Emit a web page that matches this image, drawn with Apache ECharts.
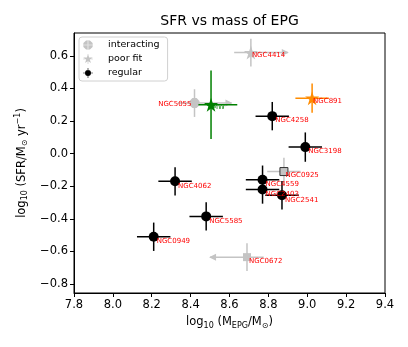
<!DOCTYPE html>
<html>
<head>
<meta charset="utf-8">
<script src="https://cdn.jsdelivr.net/npm/echarts@6/dist/echarts.min.js"></script>
<style>html,body{margin:0;padding:0;background:#fff}#main{width:408px;height:347px}</style>
</head>
<body>
<div id="main"></div>
<script>
// regular galaxies
var regNames = ['NGC4258', 'NGC3198', 'NGC4559', 'NGC2403', 'NGC2541', 'NGC4062', 'NGC5585', 'NGC0949'];
var regMass = [8.82, 8.99, 8.77, 8.77, 8.87, 8.32, 8.48, 8.21];
var regSfr = [0.23, 0.04, -0.16, -0.22, -0.255, -0.17, -0.385, -0.51];
var regMassErr = [0.086, 0.086, 0.086, 0.086, 0.086, 0.086, 0.086, 0.086];
var regSfrErr = [0.087, 0.09, 0.087, 0.087, 0.087, 0.087, 0.087, 0.087];

// interacting (mass limits: 1 = lower limit, -1 = upper limit)
var intNames = ['NGC5055', 'NGC0925', 'NGC0672'];
var intMass = [8.42, 8.88, 8.69];
var intSfr = [0.31, -0.11, -0.635];
var intMassErr = [0.086, 0.086, 0.086];
var intSfrErr = [0.085, 0.085, 0.085];
var intLimit = [1, 0, -1];

// poor fit
var poorNames = ['NGC4414'];
var poorMass = [8.71];
var poorSfr = [0.62];
var poorMassErr = [0.086];
var poorSfrErr = [0.085];
var poorLimit = [1];

// NGC891
var n891Names = ['NGC891'];
var n891Mass = [9.025];
var n891Sfr = [0.34];
var n891MassErr = [0.086];
var n891SfrErr = [0.09];

// Milky Way
var mwNames = ['MW'];
var mwMass = [8.505];
var mwSfr = [0.30];
var mwMassErrLo = [0.065];
var mwMassErrHi = [0.135];
var mwSfrErr = [0.21];

var xTicks = [7.8, 8.0, 8.2, 8.4, 8.6, 8.8, 9.0, 9.2, 9.4];
var yTicks = [-0.8, -0.6, -0.4, -0.2, 0.0, 0.2, 0.4, 0.6];

var ARROW = 0.19;
var GRAY = '#c4c4c4';
var FONT = 'DejaVu Sans';

var STAR = 'path://M10,0 L12.25,6.91 L19.51,6.91 L13.63,11.18 L15.88,18.09 L10,13.82 L4.12,18.09 L6.37,11.18 L0.49,6.91 L7.75,6.91 Z';
var OCT = 'path://M19.24,6.17 L13.83,0.76 L6.17,0.76 L0.76,6.17 L0.76,13.83 L6.17,19.24 L13.83,19.24 L19.24,13.83 Z';
var CROSS = ' M0,9.4 L20,9.4 L20,10.6 L0,10.6 Z M9.4,0 L10.6,0 L10.6,20 L9.4,20 Z';
var CIRC = 'path://M4,10 A6,6 0 1 1 16,10 A6,6 0 1 1 4,10 Z';

var chart = echarts.init(document.getElementById('main'));

function errData(xs, ys, xlo, xhi, ye, lim) {
  return xs.map(function (x, i) {
    return [x, ys[i], xlo[i], xhi[i], ye[i], lim ? lim[i] : 0];
  });
}

function errSeries(data, color, z) {
  return {
    type: 'custom',
    z: z,
    silent: true,
    encode: { x: 0, y: 1 },
    data: data,
    renderItem: function (params, api) {
      var x = api.value(0), y = api.value(1);
      var xl = api.value(2), xh = api.value(3), ye = api.value(4), lim = api.value(5);
      if (lim === 1) xh = ARROW;
      if (lim === -1) xl = ARROW;
      var a = api.coord([x - xl, y]), b = api.coord([x + xh, y]);
      var c = api.coord([x, y + ye]), d = api.coord([x, y - ye]);
      var st = { stroke: color, lineWidth: 1.5 };
      var kids = [
        { type: 'line', shape: { x1: a[0], y1: a[1], x2: b[0], y2: b[1] }, style: st },
        { type: 'line', shape: { x1: c[0], y1: c[1], x2: d[0], y2: d[1] }, style: st }
      ];
      if (lim !== 0) {
        var tip = lim === 1 ? b : a;
        var dir = lim;
        kids.push({
          type: 'polygon',
          shape: { points: [[tip[0] + dir * 1, tip[1]], [tip[0] - dir * 6, tip[1] - 3.5], [tip[0] - dir * 6, tip[1] + 3.5]] },
          style: { fill: color }
        });
      }
      return { type: 'group', children: kids };
    }
  };
}

function pts(names, xs, ys) {
  return names.map(function (n, i) { return { name: n, value: [xs[i], ys[i]] }; });
}

var lbl = {
  show: true,
  position: [8, 6],
  formatter: '{b}',
  color: '#ff0000',
  fontSize: 7,
  fontFamily: FONT
};

var intPts = pts(intNames, intMass, intSfr);
intPts[0].label = { position: [2, 3], align: 'right' };
intPts[1].symbol = 'rect';
intPts[1].symbolSize = 8;
intPts[1].itemStyle = { borderColor: '#333', borderWidth: 1 };
intPts[1].label = { position: [6, 5] };
intPts[2].symbol = 'rect';
intPts[2].symbolSize = 8;
intPts[2].label = { position: [6, 5] };

function fmt(v) {
  return v.toFixed(1).replace('-', '\u2212');
}

var option = {
  animation: false,
  textStyle: { fontFamily: FONT },
  graphic: [{
    type: 'text', x: 229.5, y: 21,
    style: { text: 'SFR vs mass of EPG', align: 'center', verticalAlign: 'middle', fontSize: 14, fontFamily: FONT, fill: '#000' }
  }],
  grid: { left: 74, right: 23, top: 33, bottom: 54, show: true, borderColor: '#000', borderWidth: 1 },
  legend: {
    orient: 'vertical',
    left: 79, top: 37,
    padding: [3, 8, 3, 4],
    itemWidth: 30, itemHeight: 10, itemGap: 4,
    borderColor: '#d0d0d0', borderWidth: 1, borderRadius: 3,
    selectedMode: false,
    textStyle: { fontSize: 9.5, color: '#000', fontFamily: FONT, lineHeight: 10 },
    data: [
      { name: 'interacting', icon: OCT + CROSS },
      { name: 'poor fit', icon: STAR + CROSS },
      { name: 'regular', icon: CIRC + CROSS }
    ]
  },
  xAxis: {
    type: 'value', min: 7.8, max: 9.4,
    name: '{n|log}{s|10}{n| (M}{s|EPG}{n|/M}{s|\u2299}{n|)}',
    nameLocation: 'middle', nameGap: 22,
    nameTextStyle: {
      rich: {
        n: { fontSize: 11.5, fontFamily: FONT, color: '#000', lineHeight: 15, verticalAlign: 'middle' },
        s: { fontSize: 8, fontFamily: FONT, color: '#000', lineHeight: 8, verticalAlign: 'bottom' }
      }
    },
    axisLine: { onZero: false, lineStyle: { color: '#000', width: 1 } },
    axisTick: { show: true, length: 4, lineStyle: { color: '#000' }, customValues: xTicks },
    axisLabel: { fontSize: 11.5, color: '#000', margin: 6, customValues: xTicks, formatter: fmt },
    splitLine: { show: false }
  },
  yAxis: {
    type: 'value', min: -0.855, max: 0.74,
    name: '{n|log}{s|10}{n| (SFR/M}{s|\u2299}{n| yr}{p|\u22121}{n|)}',
    nameLocation: 'middle', nameGap: 35,
    nameTextStyle: {
      rich: {
        n: { fontSize: 11.5, fontFamily: FONT, color: '#000', lineHeight: 15, verticalAlign: 'middle' },
        s: { fontSize: 8, fontFamily: FONT, color: '#000', lineHeight: 8, verticalAlign: 'bottom' },
        p: { fontSize: 8, fontFamily: FONT, color: '#000', lineHeight: 8, verticalAlign: 'top' }
      }
    },
    axisLine: { show: true, onZero: false, lineStyle: { color: '#000', width: 1 } },
    axisTick: { show: true, length: 4, lineStyle: { color: '#000' }, customValues: yTicks },
    axisLabel: { fontSize: 11.5, color: '#000', margin: 6, customValues: yTicks, formatter: fmt },
    splitLine: { show: false }
  },
  series: [
    errSeries(errData(intMass, intSfr, intMassErr, intMassErr, intSfrErr, intLimit), GRAY, 1),
    errSeries(errData(poorMass, poorSfr, poorMassErr, poorMassErr, poorSfrErr, poorLimit), GRAY, 1),
    errSeries(errData(regMass, regSfr, regMassErr, regMassErr, regSfrErr), '#000', 2),
    errSeries(errData(n891Mass, n891Sfr, n891MassErr, n891MassErr, n891SfrErr), '#ff8c00', 2),
    errSeries(errData(mwMass, mwSfr, mwMassErrLo, mwMassErrHi, mwSfrErr), '#008000', 4),
    {
      name: 'interacting', type: 'scatter', z: 3, symbol: OCT, symbolSize: 10,
      itemStyle: { color: GRAY, opacity: 1 }, label: lbl, data: intPts
    },
    {
      name: 'poor fit', type: 'scatter', z: 3, symbol: STAR, symbolSize: 14,
      itemStyle: { color: GRAY, opacity: 1 }, label: lbl, data: pts(poorNames, poorMass, poorSfr)
    },
    {
      name: 'regular', type: 'scatter', z: 3, symbol: 'circle', symbolSize: 10,
      itemStyle: { color: '#000', opacity: 1 }, label: lbl, data: pts(regNames, regMass, regSfr)
    },
    {
      name: 'NGC891', type: 'scatter', z: 3, symbol: STAR, symbolSize: 14,
      itemStyle: { color: '#ff8c00', opacity: 1 }, label: lbl, data: pts(n891Names, n891Mass, n891Sfr)
    },
    {
      name: 'MW', type: 'scatter', z: 5, symbol: STAR, symbolSize: 14,
      itemStyle: { color: '#008000', opacity: 1 },
      label: Object.assign({}, lbl, { color: '#008000' }),
      data: pts(mwNames, mwMass, mwSfr)
    }
  ]
};

chart.setOption(option);
</script>
</body>
</html>
